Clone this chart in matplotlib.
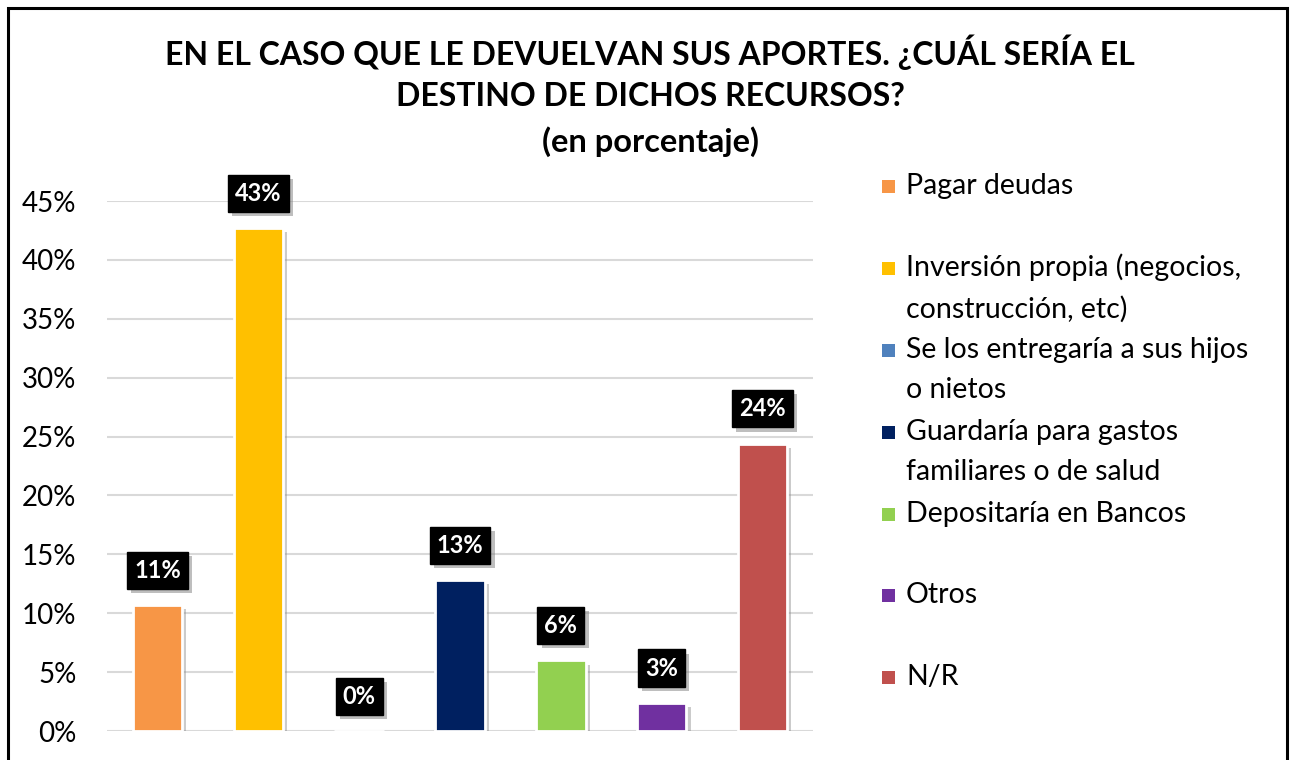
import numpy as np
import matplotlib.pyplot as plt
import matplotlib.patheffects as pe
from matplotlib.patches import Rectangle
from matplotlib.ticker import PercentFormatter

plt.rcParams['font.family'] = ['Lato', 'DejaVu Sans']

categories = ["Pagar deudas",
              "Inversión propia (negocios,\nconstrucción, etc)",
              "Se los entregaría a sus hijos\no nietos",
              "Guardaría para gastos\nfamiliares o de salud",
              "Depositaría en Bancos",
              "Otros",
              "N/R"]
values = [0.107, 0.427, 0.0, 0.128, 0.060, 0.024, 0.244]
labels = ["11%", "43%", "0%", "13%", "6%", "3%", "24%"]
colors = ["#F79646", "#FFC000", "#4F81BD", "#002060", "#92D050", "#7030A0", "#C0504D"]
yticks = np.arange(0, 0.451, 0.05)

W, H = 1290, 760
fig = plt.figure(figsize=(W / 100, H / 100), dpi=100)
ax = fig.add_axes([107 / W, 1 - 731 / H, 706 / W, 530 / H])

x = np.arange(len(values))
shadow = [pe.SimplePatchShadow(offset=(3, -3), shadow_rgbFace='#7f7f7f', alpha=0.4), pe.Normal()]
bars = ax.bar(x, values, width=0.49, color=colors, edgecolor='white', linewidth=2, zorder=3)
for b in bars:
    b.set_path_effects(shadow)

for xi, v, lab in zip(x, values, labels):
    t = ax.annotate(lab, (xi, v), xytext=(0, 25), textcoords='offset points',
                    ha='center', va='center', color='white', fontsize=17, fontweight='bold',
                    bbox=dict(boxstyle='square,pad=0.3', fc='black', ec='black'), zorder=5)
    t.get_bbox_patch().set_path_effects(
        [pe.SimplePatchShadow(offset=(3, -3), shadow_rgbFace='#7f7f7f', alpha=0.5), pe.Normal()])

ax.set_xlim(-0.5, len(values) - 0.5)
ax.set_ylim(0, 0.45)
ax.set_yticks(yticks)
ax.yaxis.set_major_formatter(PercentFormatter(1.0, decimals=0))
ax.tick_params(axis='y', length=0, pad=22, labelsize=20)
ax.tick_params(axis='x', length=0, labelbottom=False)
ax.grid(axis='y', color='#d9d9d9', linewidth=1.5, zorder=0)
for s in ax.spines.values():
    s.set_visible(False)

fig.text(650 / W, 1 - 52 / H, "EN EL CASO QUE LE DEVUELVAN SUS APORTES. ¿CUÁL SERÍA EL",
         ha='center', va='center', fontsize=23, fontweight='bold')
fig.text(650 / W, 1 - 97 / H, "DESTINO DE DICHOS RECURSOS?",
         ha='center', va='center', fontsize=23, fontweight='bold')
fig.text(650 / W, 1 - 142 / H, "(en porcentaje)",
         ha='center', va='center', fontsize=23.5, fontweight='bold')

# legend entries, placed like the Excel legend
leg_y = [186, 288, 370, 452, 514, 595, 677]
for cat, col, yy in zip(categories, colors, leg_y):
    n = cat.count("\n") + 1
    top = yy - (n - 1) * 20
    fig.patches.append(Rectangle((882 / W, 1 - (top + 7) / H), 13 / W, 13 / H,
                                 transform=fig.transFigure, fc=col, ec='none'))
    fig.text(906 / W, 1 - yy / H, cat, ha='left', va='center', fontsize=20.5,
             linespacing=1.65)

fig.patches.append(Rectangle((8 / W, -0.05), 1279 / W, 1.05 - 8 / H,
                             transform=fig.transFigure, fill=False, ec='black', lw=2.2))

fig.savefig("out.png", dpi=100)
